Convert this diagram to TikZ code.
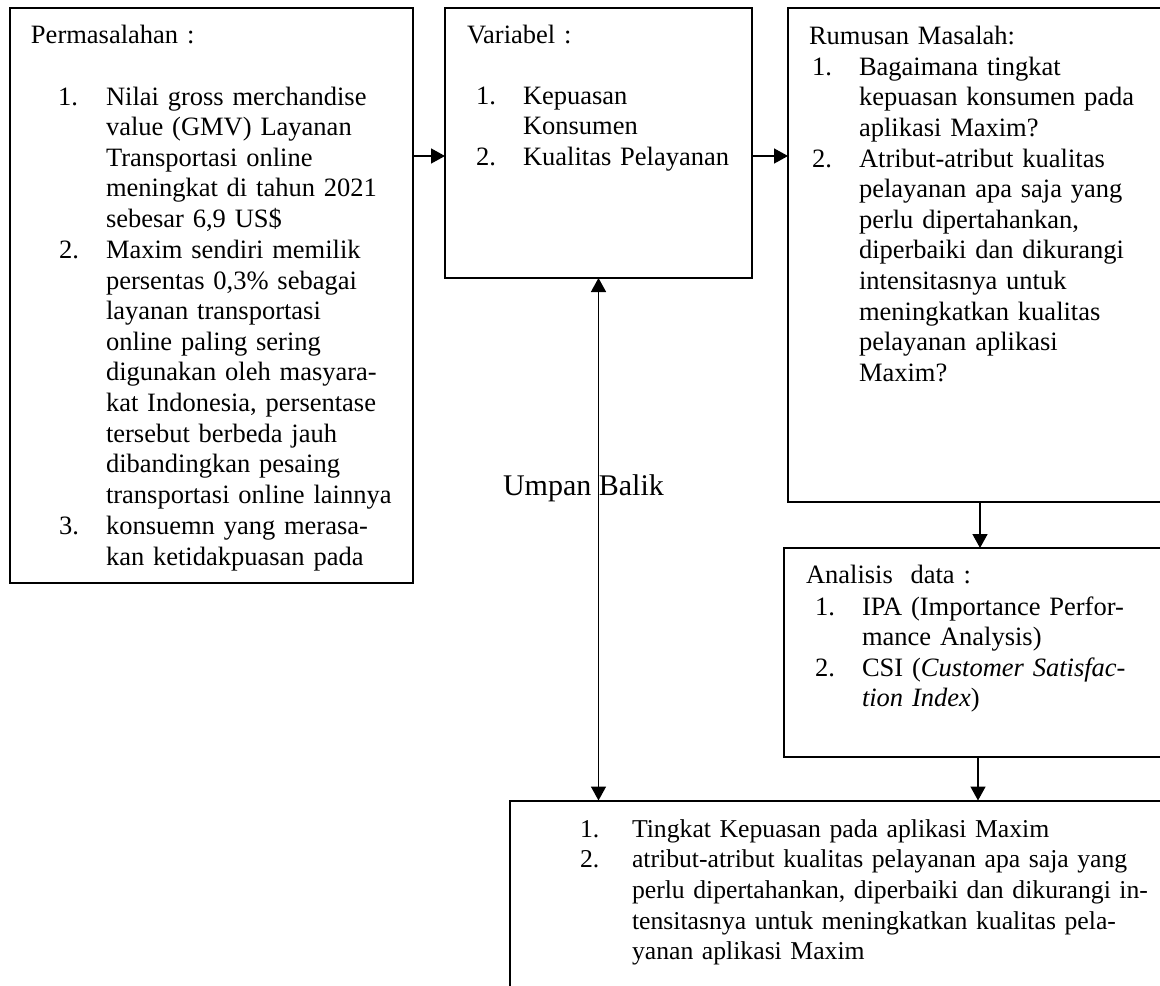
\documentclass[tikz,border=0pt]{standalone}
\usepackage{fontspec}
\setmainfont{Liberation Serif}
\usetikzlibrary{arrows.meta}
\begin{document}
\begin{tikzpicture}[x=0.5pt,y=-0.5pt,
  txt/.style={anchor=base west, inner sep=0pt, outer sep=0pt, align=left, text width=#1, font=\fontsize{13.25}{15.33}\selectfont},
  txt/.default=250pt,
  txtb/.style={txt=#1, font=\fontsize{12.85}{15.33}\selectfont},
  frame/.style={draw, line width=1pt, inner sep=0pt, outer sep=0pt},
  arr/.style={line width=0.75pt, -{Triangle[length=7pt,width=7.5pt]}},
  arrboth/.style={line width=0.75pt, {Triangle[length=7pt,width=7.5pt]}-{Triangle[length=7pt,width=7.5pt]}},
  big/.style={anchor=base west, inner sep=0pt, outer sep=0pt, font=\fontsize{15}{17}\selectfont}]
\useasboundingbox (0,0) rectangle (1160,985);
\clip (0,0) rectangle (1160,985);
\fill[white] (0,0) rectangle (1160,985);
% boxes
\node[frame, minimum width=201.5pt, minimum height=287.5pt] (b1) at (211.5,295.5) {};
\node[frame, minimum width=153.5pt, minimum height=135pt] (b2) at (598.5,143) {};
\node[frame, minimum width=193.5pt, minimum height=247pt] (b3) at (981.5,255) {};
\node[frame, minimum width=195.5pt, minimum height=104.5pt] (b4) at (979.5,652.5) {};
\node[frame, minimum width=332.5pt, minimum height=100pt] (b5) at (842.5,900.5) {};
% box 1 text
\node[txt] (t1h) at (31,43) {Permasalahan :};
\node[txt=20pt] (t1n1) at (58,105) {1.};
\node[txt] (t1i1) at (106,105) {Nilai gross merchandise\\value (GMV) Layanan\\Transportasi online\\meningkat di tahun 2021\\sebesar 6,9 US\$};
\node[txt=20pt] (t1n2) at (59,258.35) {2.};
\node[txt] (t1i2) at (106,258.35) {Maxim sendiri memilik\\persentas 0,3\% sebagai\\layanan transportasi\\online paling sering\\digunakan oleh masyara-\\kat Indonesia, persentase\\tersebut berbeda jauh\\dibandingkan pesaing\\transportasi online lainnya};
\node[txt=20pt] (t1n3) at (59,534.4) {3.};
\node[txt] (t1i3) at (106,534.4) {konsuemn yang merasa-\\kan ketidakpuasan pada};
% box 2 text
\node[txt] (t2h) at (467,43) {Variabel :};
\node[txt=20pt] (t2n1) at (476,104) {1.};
\node[txt] (t2i1) at (523,104) {Kepuasan\\Konsumen};
\node[txt=20pt] (t2n2) at (476,165.3) {2.};
\node[txt] (t2i2) at (523,165.3) {Kualitas Pelayanan};
% box 3 text
\node[txt] (t3h) at (809,44) {Rumusan Masalah:};
\node[txt=20pt] (t3n1) at (812,75) {1.};
\node[txt] (t3i1) at (859,75) {Bagaimana tingkat\\kepuasan konsumen pada\\aplikasi Maxim?};
\node[txt=20pt] (t3n2) at (812,167) {2.};
\node[txt] (t3i2) at (859,167) {Atribut-atribut kualitas\\pelayanan apa saja yang\\perlu dipertahankan,\\diperbaiki dan dikurangi\\intensitasnya untuk\\meningkatkan kualitas\\pelayanan aplikasi\\Maxim?};
% box 4 text
\node[txt] (t4h) at (806,583) {Analisis\ \ data :};
\node[txt=20pt] (t4n1) at (815,615) {1.};
\node[txt] (t4i1) at (862,615) {IPA (Importance Perfor-\\mance Analysis)};
\node[txt=20pt] (t4n2) at (815,676.3) {2.};
\node[txt] (t4i2) at (862,676.3) {CSI (\textit{Customer Satisfac-}\\\textit{tion Index})};
% box 5 text
\node[txtb=20pt] (t5n1) at (580,837) {1.};
\node[txtb=300pt] (t5i1) at (632,837) {Tingkat Kepuasan pada aplikasi Maxim};
\node[txtb=20pt] (t5n2) at (580,867.7) {2.};
\node[txtb=300pt] (t5i2) at (632,867.7) {atribut-atribut kualitas pelayanan apa saja yang\\perlu dipertahankan, diperbaiki dan dikurangi in-\\tensitasnya untuk meningkatkan kualitas pela-\\yanan aplikasi Maxim};
% feedback label
\node[big] (ub) at (503,495) {Umpan Balik};
% connectors
\coordinate (ya) at (0,156);
\coordinate (xc) at (980,0);
\coordinate (xd) at (978,0);
\draw[arr] (b1.east |- ya) -- (b2.west |- ya);
\draw[arr] (b2.east |- ya) -- (b3.west |- ya);
\draw[arrboth] (b2.south) -- (b5.north -| b2.south);
\draw[arr] (b3.south -| xc) -- (b4.north -| xc);
\draw[arr] (b4.south -| xd) -- (b5.north -| xd);
\end{tikzpicture}
\end{document}
